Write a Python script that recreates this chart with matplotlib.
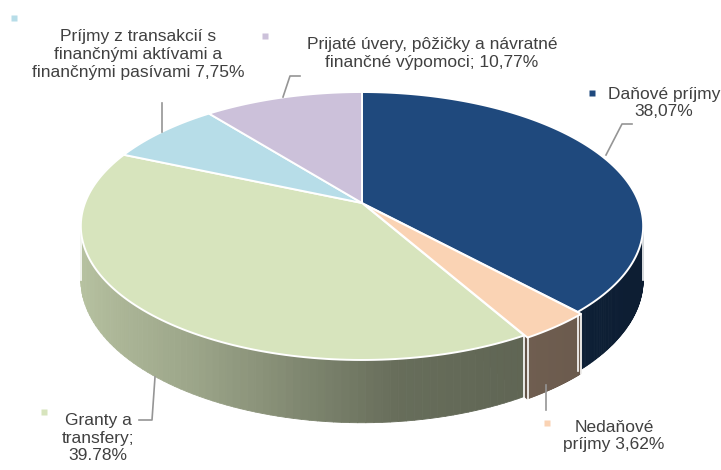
import numpy as np
import matplotlib
matplotlib.use("Agg")
import matplotlib.pyplot as plt
from matplotlib.patches import Polygon
from matplotlib.collections import PolyCollection
from matplotlib.colors import to_rgb

# data
nazvy = ["Daňové príjmy\n38,07%",
         "Nedaňové\npríjmy 3,62%",
         "Granty a\ntransfery;\n39.78%",
         "Príjmy z transakcií s\nfinančnými aktívami a\nfinančnými pasívami 7,75%",
         "Prijaté úvery, pôžičky a návratné\nfinančné výpomoci; 10,77%"]
podiel = [38.07, 3.62, 39.78, 7.75, 10.77]
farby = ["#1f497d", "#fad3b4", "#d7e4bd", "#b7dde8", "#ccc1da"]
explode = [0, 0.015, 0, 0, 0]

# label layout (pixels) : text position, marker position, leader line
popisky_xy = [(664, 103), (614, 436), (98, 438), (138, 54), (432, 54)]
znacky_xy = [(592, 93), (547, 423), (44, 412), (14, 18), (265, 36)]
ciary = [[(632, 124), (622, 124), (606, 155)],
         [(546, 385), (546, 410)],
         [(155, 377), (152, 420), (139, 420)],
         [(162, 103), (162, 132)],
         [(300, 76), (290, 76), (283, 97)]]

# perspective of the 3d pie (pixel space)
CX, CY = 362, 203
P, G, R, H = -95.2, 0.1716, 277, 52


def proj(xc, yc, z=0.0):
    den = 1 + G * yc
    return CX + R * xc / den, (P * yc + CY) / den + H * z / den


def shade(c):
    return np.interp(c, [-1, -0.5, 0.1, 1], [0.86, 0.72, 0.48, 0.40])


fig = plt.figure(figsize=(7.21, 4.70), dpi=100)
ax = fig.add_axes([0, 0, 1, 1])
ax.set_xlim(0, 721)
ax.set_ylim(470, 0)
ax.axis("off")

hranice = 90 - 360 * np.concatenate([[0], np.cumsum(podiel)]) / sum(podiel)
vid0, vid1 = -170.1, -9.9  # visible part of the rim

tops = []
for i in range(len(podiel)):
    a0, a1 = hranice[i], hranice[i + 1]   # a0 > a1
    mid = np.radians((a0 + a1) / 2)
    ox, oy = explode[i] * np.cos(mid), explode[i] * np.sin(mid)

    # top face
    t = np.radians(np.linspace(a1, a0, 120))
    pts = [proj(ox, oy)] + [proj(ox + np.cos(v), oy + np.sin(v)) for v in t]
    tops.append(Polygon(pts, closed=True, fc=farby[i], ec="white", lw=1.4, zorder=5))

    # side face
    lo, hi = max(a1, vid0), min(a0, vid1)
    if lo < hi:
        t = np.radians(np.linspace(lo, hi, 80))
        base = np.array(to_rgb(farby[i]))
        quads, cols = [], []
        for k in range(len(t) - 1):
            u, w = t[k], t[k + 1]
            q = [proj(ox + np.cos(u), oy + np.sin(u)), proj(ox + np.cos(w), oy + np.sin(w)),
                 proj(ox + np.cos(w), oy + np.sin(w), 1), proj(ox + np.cos(u), oy + np.sin(u), 1)]
            quads.append(q)
            cols.append(base * shade(np.cos((u + w) / 2)))
        pc = PolyCollection(quads, facecolors=cols, edgecolors=cols, lw=0.6, zorder=2)
        ax.add_collection(pc)
        for v in (lo, hi):
            v = np.radians(v)
            p1 = proj(ox + np.cos(v), oy + np.sin(v))
            p2 = proj(ox + np.cos(v), oy + np.sin(v), 1)
            ax.plot([p1[0], p2[0]], [p1[1], p2[1]], color="white", lw=1.2, zorder=3)

    # visible cut face of exploded slice (behind the neighbouring side)
    if explode[i] > 0:
        v = np.radians(a1)
        col = np.array(to_rgb(farby[i])) * 0.4
        q = [proj(ox, oy), proj(ox + np.cos(v), oy + np.sin(v)),
             proj(ox + np.cos(v), oy + np.sin(v), 1), proj(ox, oy, 1)]
        ax.add_patch(Polygon(q, closed=True, fc=col, ec=col, lw=1.0, zorder=1))

# tops: exploded one last
for i in np.argsort(explode, kind="stable"):
    ax.add_patch(tops[i])

for i in range(len(podiel)):
    ax.text(*popisky_xy[i], nazvy[i], ha="center", va="center", fontsize=12.5,
            color="#404040", linespacing=1.25,
            family=["Liberation Sans", "DejaVu Sans"])
    ax.plot(*znacky_xy[i], marker="s", ms=4.5, color=farby[i], mec="none")
    xs, ys = zip(*ciary[i])
    ax.plot(xs, ys, color="#959595", lw=1.2, zorder=6)

fig.savefig("out.png", dpi=100)
